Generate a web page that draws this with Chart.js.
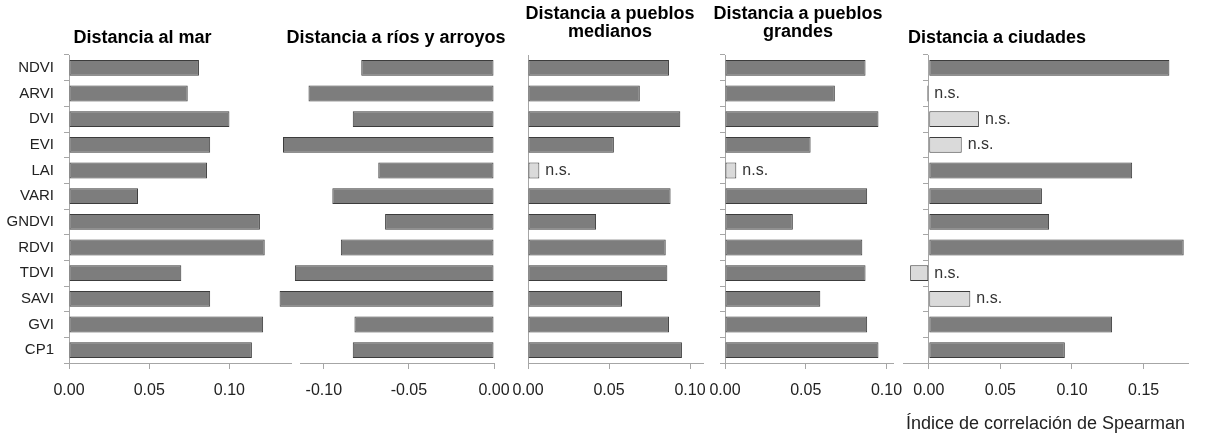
<!DOCTYPE html>
<html>
<head>
<meta charset="utf-8">
<script src="https://cdn.jsdelivr.net/npm/chart.js@4.4.1/dist/chart.umd.min.js"></script>
<style>
    body { margin: 0; background: #fff; }
    #wrap { position: relative; width: 1205px; height: 446px; overflow: hidden; }
    .panel { position: absolute; top: 0; height: 446px; }
</style>
</head>
<body>
<div id="wrap">
    <div class="panel" style="left:0px;width:292px"><canvas id="marChart"></canvas></div>
    <div class="panel" style="left:270px;width:253px"><canvas id="riosChart"></canvas></div>
    <div class="panel" style="left:500px;width:221px"><canvas id="medianosChart"></canvas></div>
    <div class="panel" style="left:694px;width:223px"><canvas id="grandesChart"></canvas></div>
    <div class="panel" style="left:880px;width:325px"><canvas id="ciudadesChart"></canvas></div>
</div>
<script>
const indices = ['NDVI', 'ARVI', 'DVI', 'EVI', 'LAI', 'VARI', 'GNDVI', 'RDVI', 'TDVI', 'SAVI', 'GVI', 'CP1'];

const mar = [0.081, 0.074, 0.100, 0.088, 0.086, 0.043, 0.119, 0.122, 0.070, 0.088, 0.121, 0.114];
const rios = [-0.078, -0.109, -0.083, -0.124, -0.068, -0.095, -0.064, -0.090, -0.117, -0.126, -0.082, -0.083];
const medianos = [0.087, 0.069, 0.094, 0.053, 0.007, 0.088, 0.042, 0.085, 0.086, 0.058, 0.087, 0.095];
const grandes = [0.087, 0.068, 0.095, 0.053, 0.007, 0.088, 0.042, 0.085, 0.087, 0.059, 0.088, 0.095];
const ciudades = [0.168, -0.001, 0.035, 0.023, 0.142, 0.079, 0.084, 0.178, -0.013, 0.029, 0.128, 0.095];

// non significant correlations (drawn light, labelled n.s.)
const nsMar = [];
const nsRios = [];
const nsMedianos = ['LAI'];
const nsGrandes = ['LAI'];
const nsCiudades = ['ARVI', 'DVI', 'EVI', 'TDVI', 'SAVI'];

const xTicks = [0.00, 0.05, 0.10, 0.15];

const sans = "'Liberation Sans', Arial, sans-serif";
const axisGray = '#a6a6a6';

const nsLabels = {
    id: 'nsLabels',
    afterDatasetsDraw(chart, args, opts) {
        const ctx = chart.ctx;
        const meta = chart.getDatasetMeta(0);
        ctx.save();
        ctx.font = '16px ' + sans;
        ctx.fillStyle = '#333';
        ctx.textBaseline = 'middle';
        ctx.textAlign = 'left';
        meta.data.forEach((bar, i) => {
            if (!opts.names.includes(indices[i])) return;
            ctx.fillText('n.s.', Math.max(bar.x, bar.base) + 6, bar.y);
        });
        ctx.restore();
    }
};

// panel heading, drawn without the width squeeze of the built-in title
const panelTitle = {
    id: 'panelTitle',
    afterDraw(chart, args, opts) {
        const ctx = chart.ctx;
        ctx.save();
        ctx.font = 'bold 18px ' + sans;
        ctx.fillStyle = '#000';
        ctx.textAlign = opts.align;
        ctx.textBaseline = 'alphabetic';
        let y = opts.lines.length > 1 ? 18.5 : 42.5;
        opts.lines.forEach(line => {
            ctx.fillText(line, opts.x, y);
            y += 18;
        });
        ctx.restore();
    }
};

function makePanel(id, lines, values, ns, o) {
    let yScale;
    if (o.yMode === 'labels') {
        yScale = {
            position: 'left',
            grid: { drawOnChartArea: false, offset: true, tickLength: 5, color: axisGray },
            border: { color: axisGray },
            ticks: { color: '#222', padding: 10, font: { family: sans, size: 15 } },
            afterFit: s => { s.width = 69; }
        };
    } else if (o.yMode === 'none') {
        yScale = { display: false };
    } else {
        yScale = {
            position: { x: 0 },
            grid: { drawOnChartArea: false, offset: true, drawTicks: o.yTickLen > 0, tickLength: o.yTickLen, color: axisGray },
            border: { color: axisGray },
            ticks: { display: false }
        };
    }

    new Chart(document.getElementById(id), {
        type: 'bar',
        data: {
            labels: indices,
            datasets: [{
                data: values,
                backgroundColor: values.map((v, i) => ns.includes(indices[i]) ? '#dadada' : '#7d7d7d'),
                borderColor: '#3c3c3c',
                borderWidth: 1,
                borderSkipped: false,
                barPercentage: 0.62,
                categoryPercentage: 1.0,
                clip: false,
            }]
        },
        plugins: [nsLabels, panelTitle],
        options: {
            indexAxis: 'y',
            responsive: true,
            maintainAspectRatio: false,
            animation: false,
            layout: { padding: { left: o.padL, right: o.padR, top: 55, bottom: 0 } },
            plugins: {
                legend: { display: false },
                tooltip: { enabled: false },
                title: { display: false },
                nsLabels: { names: ns },
                panelTitle: { lines: lines, x: o.titleX, align: o.titleAlign }
            },
            scales: {
                x: {
                    type: 'linear',
                    min: o.min,
                    max: o.max,
                    afterBuildTicks: s => {
                        s.ticks = xTicks.map(v => ({ value: v * o.sign })).filter(t => t.value >= o.min - 1e-9 && t.value <= o.max + 1e-9);
                    },
                    ticks: {
                        color: '#222',
                        padding: 12,
                        font: { family: sans, size: 16 },
                        callback: v => Math.abs(v) < 1e-9 ? '0.00' : v.toFixed(2)
                    },
                    grid: { drawOnChartArea: false, tickLength: 6, color: axisGray },
                    border: { color: axisGray },
                    title: {
                        display: !!o.xTitle,
                        text: o.xTitle || '',
                        color: '#222',
                        font: { family: sans, size: 18 },
                        padding: { top: 0, bottom: 11 }
                    },
                    afterFit: s => { s.height = 83; }
                },
                y: yScale
            }
        }
    });
}

makePanel('marChart', ['Distancia al mar'], mar, nsMar, {
    min: 0, max: 0.139, sign: 1, padL: 0, padR: 0, yMode: 'labels',
    titleX: 142.5, titleAlign: 'center'
});
makePanel('riosChart', ['Distancia a ríos y arroyos'], rios, nsRios, {
    min: -0.114, max: 0, sign: -1, padL: 30, padR: 29, yMode: 'none',
    titleX: 126, titleAlign: 'center'
});
makePanel('medianosChart', ['Distancia a pueblos', 'medianos'], medianos, nsMedianos, {
    min: 0, max: 0.108, sign: 1, padL: 28, padR: 18, yMode: 'zero', yTickLen: 0,
    titleX: 110, titleAlign: 'center'
});
makePanel('grandesChart', ['Distancia a pueblos', 'grandes'], grandes, nsGrandes, {
    min: 0, max: 0.104, sign: 1, padL: 31, padR: 24, yMode: 'zero', yTickLen: 5,
    titleX: 104, titleAlign: 'center'
});
makePanel('ciudadesChart', ['Distancia a ciudades'], ciudades, nsCiudades, {
    min: -0.018, max: 0.181, sign: 1, padL: 23, padR: 17, yMode: 'zero', yTickLen: 5,
    titleX: 28, titleAlign: 'left',
    xTitle: 'Índice de correlación de Spearman'
});
</script>
</body>
</html>
